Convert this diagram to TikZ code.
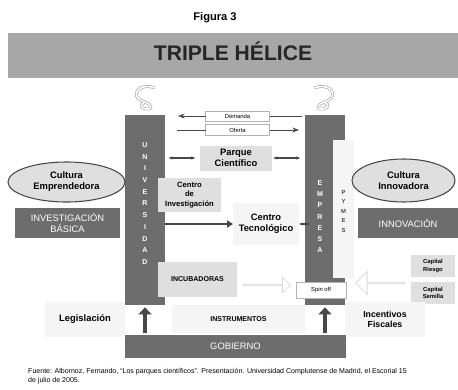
\documentclass[tikz,border=0pt]{standalone}
\usepackage{fontspec}
\setmainfont{Liberation Sans}
\usetikzlibrary{arrows.meta,calc,positioning,shapes.geometric,shapes.arrows}

\definecolor{oscuro}{HTML}{6D6D6D}
\definecolor{titgris}{HTML}{A7A7A7}
\definecolor{claro}{HTML}{DFDFDF}
\definecolor{palido}{HTML}{F5F5F5}
\definecolor{flecha}{HTML}{474747}

\begin{document}
\begin{tikzpicture}[x=0.03cm,y=-0.03cm,>=Stealth]

    % Styles
    \tikzset{
        tam/.style 2 args={minimum width=#1*0.03cm, minimum height=#2*0.03cm, inner sep=0pt, outer sep=0pt},
        bar/.style={fill=oscuro, draw=none, text=white, align=center},
        gbox/.style={fill=claro, draw=none, align=center, font=\fontsize{6.5}{8}\selectfont\bfseries},
        pbox/.style={fill=palido, draw=none, align=center, font=\fontsize{8}{9.5}\selectfont\bfseries},
        wbox/.style={fill=white, draw=gray!60, line width=0.4pt, font=\fontsize{5}{6}\selectfont},
        cultura/.style={ellipse, fill=claro, draw=flecha, line width=0.9pt, align=center, inner sep=0pt,
            font=\fontsize{8}{9.5}\selectfont\bfseries},
        letra/.style={text=white, font=\fontsize{6}{6}\selectfont\bfseries, inner sep=0pt},
        linea/.style={line width=0.6pt, flecha},
        dbl/.style={line width=1.4pt, flecha, {Stealth[length=3.5pt]}-{Stealth[length=3.5pt]}},
        grueso/.style={line width=1.5pt, flecha, -{Triangle[length=5pt,width=6pt]}},
        subida/.style={line width=3.5pt, flecha, -{Triangle[length=6pt,width=11pt]}},
        hueca/.style={single arrow, draw=gray!30, fill=white, line width=0.7pt, inner sep=0pt},
        helice/.style={gray!75, line width=0.5pt, double=white, double distance=1.4pt}
    }

    \useasboundingbox (0,0) rectangle (458,389);

    % Title
    \node[font=\fontsize{9.5}{11}\selectfont\bfseries] (fig) at (215,18) {Figura 3};
    \node[tam={450}{45}, fill=titgris] (tit) at (233,55.5) {};
    \node[font=\fontsize{18}{20}\selectfont\bfseries, text=black!85] (titTxt) at (233,51) {TRIPLE HÉLICE};

    % Helices
    \draw[helice] (155,88) .. controls (138,82) and (130,96) .. (142,101)
        .. controls (152,104) and (154,110) .. (146,109) .. controls (140,108) and (140,104) .. (144,103);
    \draw[helice] (314,88) .. controls (331,82) and (339,96) .. (327,101)
        .. controls (317,104) and (315,110) .. (323,109) .. controls (329,108) and (329,104) .. (325,103);

    % Columns
    \node[bar, tam={40}{190}] (univ) at (145,210) {};
    \node[bar, tam={40}{190}] (emp) at (325,210) {};
    \node[fill=palido, tam={21}{138}] (pymes) at (343.5,209) {};
    \foreach \l [count=\i from 0] in {U,N,I,V,E,R,S,I,D,A,D}
        \node[letra] (u\i) at (145,145+11.7*\i) {\l};
    \foreach \l [count=\i from 0] in {E,M,P,R,E,S,A}
        \node[letra] (e\i) at (320,183+11.2*\i) {\l};
    \foreach \l [count=\i from 0] in {P,Y,M,E,S}
        \node[letra, text=flecha, font=\fontsize{5}{5}\selectfont\bfseries] (p\i) at (343.5,192+9.5*\i) {\l};
    \node[wbox, tam={50}{16}] (spin) at (321,290) {Spin off};

    % Demanda / Oferta
    \node[wbox, tam={64}{10}] (dem) at (237.5,116) {Demanda};
    \node[wbox, tam={64}{11}] (ofe) at (237.5,130) {Oferta};
    \coordinate (demR) at (302,116);
    \coordinate (demL) at (178,116);
    \coordinate (ofeL) at (177,130);
    \coordinate (ofeR) at (299,130);
    \draw[linea] (demR) -- (dem.east);
    \draw[linea, ->] (dem.west) -- (demL);
    \draw[linea] (ofeL) -- (ofe.west);
    \draw[linea, ->] (ofe.east) -- (ofeR);

    % Parque and centros
    \node[gbox, tam={72}{25}, font=\fontsize{8}{9.5}\selectfont\bfseries] (parque) at (236,158) {Parque\\Científico};
    \draw[dbl, shorten <=3pt, shorten >=4pt] (univ.east |- parque.west) -- (parque.west);
    \draw[dbl, shorten <=1pt, shorten >=4pt] (parque.east) -- (emp.west |- parque.east);
    \node[gbox, tam={63}{34}] (cinv) at (189.5,195) {Centro\\de\\Investigación};
    \node[pbox, tam={66}{42}] (ctec) at (266,224) {Centro\\Tecnológico};
    \draw[grueso] (univ.east |- ctec.west) -- (ctec.west);
    \draw[dbl, shorten >=-4pt] (ctec.east) -- (emp.west |- ctec.east);

    % Incubadoras and capital
    \node[gbox, tam={79}{35}, font=\fontsize{6}{7}\selectfont\bfseries] (incub) at (197.5,279.5) {INCUBADORAS};
    \node[hueca, minimum height=47*0.03cm, minimum width=16*0.03cm, single arrow head extend=4*0.03cm] (hA) at (266.5,285) {};
    \node[hueca, minimum height=49*0.03cm, minimum width=23*0.03cm, single arrow head extend=6*0.03cm,
        shape border rotate=180] (hB) at (380.5,283) {};
    \node[gbox, tam={44}{22}, font=\fontsize{5}{6}\selectfont\bfseries] (criesgo) at (433,266) {Capital\\Riesgo};
    \node[gbox, tam={44}{22}, font=\fontsize{5}{6}\selectfont\bfseries] (csemilla) at (433,292.5) {Capital\\Semilla};

    % Left and right sides
    \node[cultura, minimum width=117*0.03cm, minimum height=40*0.03cm] (cemp) at (66.5,182) {Cultura\\Emprendedora};
    \node[bar, tam={105}{30}, font=\fontsize{8}{9.5}\selectfont] (ibas) at (67.5,223) {INVESTIGACIÓN\\BÁSICA};
    \node[cultura, minimum width=103*0.03cm, minimum height=43*0.03cm] (cinn) at (403.5,180.5) {Cultura\\Innovadora};
    \node[bar, tam={100}{30}, font=\fontsize{8}{9.5}\selectfont] (innov) at (408,223) {INNOVACIÓN};

    % Gobierno
    \node[pbox, tam={80}{35}] (legis) at (85,319.5) {Legislación};
    \node[pbox, tam={133}{28}, font=\fontsize{6}{7}\selectfont\bfseries] (instr) at (238.5,319) {INSTRUMENTOS};
    \node[pbox, tam={80}{35}, font=\fontsize{7.5}{9}\selectfont\bfseries] (incent) at (385,319.5) {Incentivos\\Fiscales};
    \node[bar, tam={221}{23}, font=\fontsize{8}{9}\selectfont] (gob) at (235.5,346.5) {GOBIERNO};
    \draw[subida, shorten <=2pt, shorten >=2pt] (gob.north -| univ) -- (univ.south);
    \draw[subida, shorten <=2pt, shorten >=2pt] (gob.north -| emp) -- (emp.south);

    % Fuente
    \node[anchor=north west, font=\fontsize{6}{7.5}\selectfont, align=left, inner sep=0pt] (fuente) at (28,368)
        {Fuente: Albornoz, Fernando, ``Los parques científicos''. Presentación. Universidad Complutense de Madrid, el Escorial 15\\de julio de 2005.};

\end{tikzpicture}
\end{document}
